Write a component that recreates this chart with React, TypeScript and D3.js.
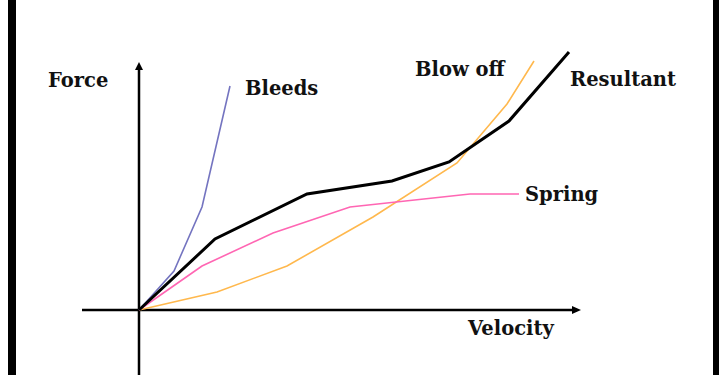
import React from "react";
import * as d3 from "d3";

const W = 728;
const H = 375;

// Data values (arbitrary units: velocity vs. force)
const bleedsX = [0, 35, 63, 91];
const bleedsY = [0, 39, 103, 224];
const resultantX = [0, 76, 168, 253, 310, 370, 430];
const resultantY = [0, 71, 116, 129, 148, 189, 258];
const springX = [0, 63, 134, 211, 331, 380];
const springY = [0, 44, 77, 103, 116, 116];
const blowX = [0, 78, 148, 234, 318, 368, 395];
const blowY = [0, 18, 44, 93, 147, 206, 249];

const labels = ["Force", "Velocity", "Bleeds", "Blow off", "Resultant", "Spring"];

export default function App() {
  const x = d3.scaleLinear().domain([0, 440]).range([139, 579]);
  const y = d3.scaleLinear().domain([-65, 250]).range([375, 60]);
  const line = d3
    .line<[number, number]>()
    .x((d) => x(d[0]))
    .y((d) => y(d[1]));
  const pts = (xs: number[], ys: number[]) => xs.map((v, i) => [v, ys[i]] as [number, number]);

  const x0 = x(0);
  const y0 = y(0);
  const xMin = x(-57);
  const xMax = x(442);
  const yTop = y(248);
  const yBot = y(-65);

  const font = { fontFamily: "'DejaVu Serif', serif", fontWeight: 700, fontSize: 19.5, fill: "#111" } as const;

  return (
    <svg
      width={W}
      height={H}
      style={{ position: "absolute", left: 0, top: 0, background: "#fff" }}
    >
      <rect x={0} y={0} width={W} height={H} fill="#fff" />
      <rect x={8} y={0} width={8} height={H} fill="#000" />
      <rect x={713} y={0} width={6} height={H} fill="#000" />

      {/* axes */}
      <line x1={x0} x2={x0} y1={yBot} y2={yTop + 4} stroke="#000" strokeWidth={2.5} />
      <path d={`M${x0},${yTop} L${x0 - 4},${yTop + 8} L${x0 + 4},${yTop + 8} Z`} fill="#000" />
      <line x1={xMin} x2={xMax - 4} y1={y0} y2={y0} stroke="#000" strokeWidth={2.5} />
      <path d={`M${xMax},${y0} L${xMax - 9},${y0 - 4} L${xMax - 9},${y0 + 4} Z`} fill="#000" />

      {/* curves */}
      <path d={line(pts(blowX, blowY)) || ""} fill="none" stroke="#ffb84d" strokeWidth={1.6} />
      <path d={line(pts(springX, springY)) || ""} fill="none" stroke="#ff66b3" strokeWidth={1.6} />
      <path d={line(pts(bleedsX, bleedsY)) || ""} fill="none" stroke="#7474c0" strokeWidth={1.6} />
      <path d={line(pts(resultantX, resultantY)) || ""} fill="none" stroke="#000" strokeWidth={3} />

      {/* labels */}
      <text x={48} y={87} {...font}>{labels[0]}</text>
      <text x={468} y={335} {...font}>{labels[1]}</text>
      <text x={245} y={95} {...font}>{labels[2]}</text>
      <text x={415} y={76} {...font}>{labels[3]}</text>
      <text x={570} y={86} {...font}>{labels[4]}</text>
      <text x={525} y={201} {...font}>{labels[5]}</text>
    </svg>
  );
}
